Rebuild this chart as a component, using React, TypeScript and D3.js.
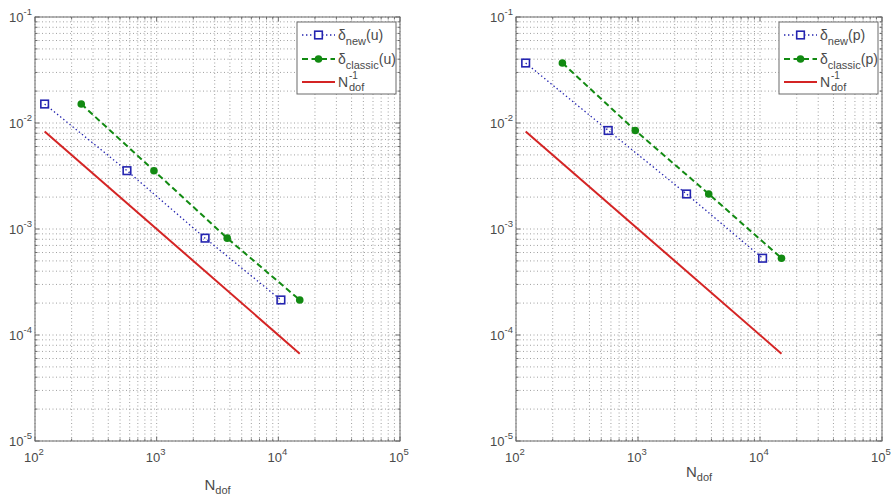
import React from "react";
import * as d3 from "d3";

const nNew = [120, 570, 2500, 10500];
const nClassic = [240, 950, 3800, 15000];
const errU = [0.0151, 0.00355, 0.00082, 0.000214];
const errP = [0.0368, 0.0085, 0.00214, 0.00053];
const refN = [120, 15000];
const xDecades = [2, 3, 4, 5];
const yDecades = [-5, -4, -3, -2, -1];

const W = 891;
const H = 498;
const TOP = 17;
const BOTTOM = 441;
const FONT = "'Liberation Sans', Arial, sans-serif";

const BLUE = "#2424b0";
const GREEN = "#128a12";
const RED = "#d42424";
const GRID = "#a0a0a0";
const AXIS = "#6a6a6a";
const TXT = "#4a4a4a";

type PanelProps = { x0: number; x1: number; errs: number[]; v: string; xlabY: number };

function Panel({ x0, x1, errs, v, xlabY }: PanelProps) {
  const x = d3.scaleLog().domain([1e2, 1e5]).range([x0, x1]);
  const y = d3.scaleLog().domain([1e-5, 1e-1]).range([BOTTOM, TOP]);
  const xMinor: number[] = [];
  for (let d = 2; d < 5; d++) for (let k = 2; k <= 9; k++) xMinor.push(k * Math.pow(10, d));
  const yMinor: number[] = [];
  for (let d = -5; d < -1; d++) for (let k = 2; k <= 9; k++) yMinor.push(k * Math.pow(10, d));
  const xMajor = xDecades.map((e) => Math.pow(10, e));
  const yMajor = yDecades.map((e) => Math.pow(10, e));

  const lineGen = d3
    .line<[number, number]>()
    .x((d) => x(d[0]))
    .y((d) => y(d[1]));
  const newPts: [number, number][] = nNew.map((n, i) => [n, errs[i]]);
  const clsPts: [number, number][] = nClassic.map((n, i) => [n, errs[i]]);
  const refPts: [number, number][] = refN.map((n) => [n, 1 / n]);

  const lx = x1 - 103;
  const ly = TOP + 5;
  const lw = 99;
  const lh = 72;
  const rows = [ly + 13, ly + 37, ly + 60];

  return (
    <g>
      {[...xMinor, ...xMajor].map((t, i) => (
        <line key={"gx" + i} x1={x(t)} x2={x(t)} y1={TOP} y2={BOTTOM} stroke={GRID} strokeDasharray="1,2.5" />
      ))}
      {[...yMinor, ...yMajor].map((t, i) => (
        <line key={"gy" + i} y1={y(t)} y2={y(t)} x1={x0} x2={x1} stroke={GRID} strokeDasharray="1,2.5" />
      ))}
      {xMinor.map((t, i) => (
        <g key={"tx" + i} stroke={AXIS}>
          <line x1={x(t)} x2={x(t)} y1={BOTTOM} y2={BOTTOM - 2.5} />
          <line x1={x(t)} x2={x(t)} y1={TOP} y2={TOP + 2.5} />
        </g>
      ))}
      {xMajor.map((t, i) => (
        <g key={"tX" + i} stroke={AXIS}>
          <line x1={x(t)} x2={x(t)} y1={BOTTOM} y2={BOTTOM - 4.5} />
          <line x1={x(t)} x2={x(t)} y1={TOP} y2={TOP + 4.5} />
        </g>
      ))}
      {yMinor.map((t, i) => (
        <g key={"ty" + i} stroke={AXIS}>
          <line y1={y(t)} y2={y(t)} x1={x0} x2={x0 + 2.5} />
          <line y1={y(t)} y2={y(t)} x1={x1} x2={x1 - 2.5} />
        </g>
      ))}
      {yMajor.map((t, i) => (
        <g key={"tY" + i} stroke={AXIS}>
          <line y1={y(t)} y2={y(t)} x1={x0} x2={x0 + 4.5} />
          <line y1={y(t)} y2={y(t)} x1={x1} x2={x1 - 4.5} />
        </g>
      ))}
      <rect x={x0} y={TOP} width={x1 - x0} height={BOTTOM - TOP} fill="none" stroke={AXIS} strokeWidth={1} />
      {xDecades.map((e, i) => (
        <text key={"lx" + i} x={x(Math.pow(10, e)) - 1} y={BOTTOM + 21} textAnchor="middle" fontFamily={FONT} fontSize={13} fill={TXT}>
          10
          <tspan dy={-7} fontSize={9.5}>{e}</tspan>
        </text>
      ))}
      {yDecades.map((e, i) => (
        <text key={"ly" + i} x={x0 - 3} y={y(Math.pow(10, e)) + 5} textAnchor="end" fontFamily={FONT} fontSize={13} fill={TXT}>
          10
          <tspan dy={-7} fontSize={9.5}>{e}</tspan>
        </text>
      ))}
      <text x={(x0 + x1) / 2} y={xlabY} textAnchor="middle" fontFamily={FONT} fontSize={15} fill={TXT}>
        N
        <tspan dy={4} fontSize={11}>dof</tspan>
      </text>
      <path d={lineGen(refPts) || ""} fill="none" stroke={RED} strokeWidth={2} />
      <path d={lineGen(newPts) || ""} fill="none" stroke={BLUE} strokeWidth={1.3} strokeDasharray="1.4,2.6" />
      <path d={lineGen(clsPts) || ""} fill="none" stroke={GREEN} strokeWidth={2} strokeDasharray="6,3.5" />
      {newPts.map((p, i) => (
        <rect key={"sq" + i} x={x(p[0]) - 3.8} y={y(p[1]) - 3.8} width={7.6} height={7.6} fill="none" stroke={BLUE} strokeWidth={1.6} />
      ))}
      {clsPts.map((p, i) => (
        <circle key={"ci" + i} cx={x(p[0])} cy={y(p[1])} r={3.8} fill={GREEN} />
      ))}
      <rect x={lx} y={ly} width={lw} height={lh} fill="white" stroke={AXIS} strokeWidth={1} />
      <line x1={lx + 5} x2={lx + 38} y1={rows[0]} y2={rows[0]} stroke={BLUE} strokeWidth={1.3} strokeDasharray="1.4,2.6" />
      <rect x={lx + 21.5 - 3.8} y={rows[0] - 3.8} width={7.6} height={7.6} fill="white" stroke={BLUE} strokeWidth={1.6} />
      <text x={lx + 41} y={rows[0] + 5} fontFamily={FONT} fontSize={14} fill={TXT}>
        δ<tspan dy={5} fontSize={11}>new</tspan>
        <tspan dy={-5}>({v})</tspan>
      </text>
      <line x1={lx + 5} x2={lx + 38} y1={rows[1]} y2={rows[1]} stroke={GREEN} strokeWidth={2} strokeDasharray="6,3.5" />
      <circle cx={lx + 21.5} cy={rows[1]} r={3.8} fill={GREEN} />
      <text x={lx + 41} y={rows[1] + 5} fontFamily={FONT} fontSize={14} fill={TXT}>
        δ<tspan dy={5} fontSize={11}>classic</tspan>
        <tspan dy={-5}>({v})</tspan>
      </text>
      <line x1={lx + 5} x2={lx + 38} y1={rows[2]} y2={rows[2]} stroke={RED} strokeWidth={2} />
      <text x={lx + 41} y={rows[2] + 5} fontFamily={FONT} fontSize={14} fill={TXT}>N</text>
      <text x={lx + 52} y={rows[2] - 3} fontFamily={FONT} fontSize={10} fill={TXT}>-1</text>
      <text x={lx + 52} y={rows[2] + 9} fontFamily={FONT} fontSize={11} fill={TXT}>dof</text>
    </g>
  );
}

export default function App() {
  return (
    <svg width={W} height={H} style={{ position: "absolute", left: 0, top: 0, background: "white" }}>
      <rect width={W} height={H} fill="white" />
      <Panel x0={35} x1={400} errs={errU} v="u" xlabY={490} />
      <Panel x0={516} x1={882} errs={errP} v="p" xlabY={477} />
    </svg>
  );
}
